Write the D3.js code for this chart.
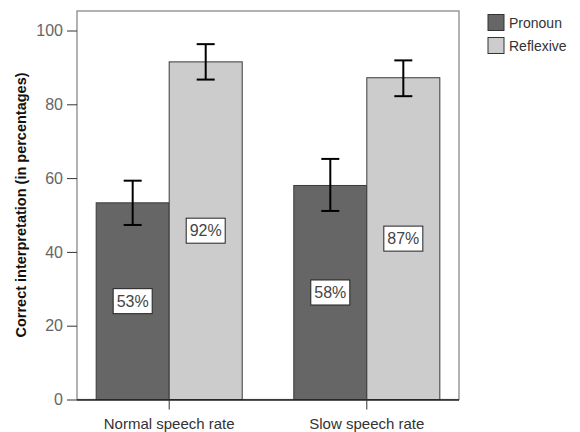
<!DOCTYPE html>
<html><head><meta charset="utf-8">
<script src="https://cdn.jsdelivr.net/npm/d3@7"></script>
<style>body{margin:0;background:#fff}text{font-family:Arial,"Liberation Sans",sans-serif}</style>
</head><body><svg id="c" width="580" height="432"></svg>
<script>
const categories = ["Normal speech rate", "Slow speech rate"];
const series = ["Pronoun", "Reflexive"];
const pronoun = [53.3, 58.0];
const reflexive = [91.5, 87.2];
const pronounLow = [47.3, 51.1];
const pronounHigh = [59.3, 65.2];
const reflexiveLow = [86.7, 82.2];
const reflexiveHigh = [96.3, 91.9];
const labels = [["53%", "58%"], ["92%", "87%"]];
const yTicks = [0, 20, 40, 60, 80, 100];
const colors = ["#666666", "#cccccc"];

const svg = d3.select("#c");
const L = 77, R = 459, T = 11, B = 399.5;
const y = d3.scaleLinear().domain([0, 100]).range([B, 30.5]);
const x0 = d3.scaleBand().domain(categories).range([L, R]).paddingInner(0.261).paddingOuter(0.097);
const x1 = d3.scaleBand().domain(series).range([0, x0.bandwidth()]);

// frame
svg.append("rect").attr("x", L).attr("y", T).attr("width", R - L).attr("height", B - T)
  .attr("fill", "none").attr("stroke", "#7f7f7f").attr("stroke-width", 1.2);

const vals = [pronoun, reflexive], lows = [pronounLow, reflexiveLow], highs = [pronounHigh, reflexiveHigh];
series.forEach((s, si) => {
  categories.forEach((c, ci) => {
    const bx = x0(c) + x1(s);
    svg.append("rect").attr("x", bx).attr("y", y(vals[si][ci])).attr("width", x1.bandwidth())
      .attr("height", y(0) - y(vals[si][ci])).attr("fill", colors[si]).attr("stroke", "#3a3a3a").attr("stroke-width", 1);
  });
});
series.forEach((s, si) => {
  categories.forEach((c, ci) => {
    const cx = x0(c) + x1(s) + x1.bandwidth() / 2;
    const g = svg.append("g").attr("stroke", "#000").attr("stroke-width", 2);
    g.append("line").attr("x1", cx).attr("x2", cx).attr("y1", y(highs[si][ci])).attr("y2", y(lows[si][ci]));
    [highs[si][ci], lows[si][ci]].forEach(v => g.append("line").attr("x1", cx - 9).attr("x2", cx + 9).attr("y1", y(v)).attr("y2", y(v)));
    const ly = y(vals[si][ci] / 2);
    svg.append("rect").attr("x", cx - 19.5).attr("y", ly - 12.5).attr("width", 39).attr("height", 25)
      .attr("fill", "#fff").attr("stroke", "#222").attr("stroke-width", 1);
    svg.append("text").attr("x", cx).attr("y", ly + 5.5).attr("text-anchor", "middle")
      .attr("font-size", 16).attr("fill", "#444").text(labels[si][ci]);
  });
});

// y axis
const ya = svg.append("g").attr("transform", `translate(${L},0)`).call(d3.axisLeft(y).tickValues(yTicks).tickSize(10).tickPadding(4));
ya.select(".domain").remove();
ya.selectAll("line").attr("stroke", "#333");
ya.selectAll("text").attr("font-size", 16).attr("fill", "#666").style("font-family", "Arial, 'Liberation Sans', sans-serif");

// x axis
const xa = svg.append("g").attr("transform", `translate(0,${B})`).call(d3.axisBottom(x0).tickSize(10).tickPadding(9));
xa.select(".domain").attr("d", `M${L},0.5H${R}`).attr("stroke", "#222").attr("stroke-width", 1.5);
xa.selectAll("line").attr("stroke", "#333");
xa.selectAll("text").attr("font-size", 15).attr("fill", "#333").style("font-family", "Arial, 'Liberation Sans', sans-serif");

// y title
svg.append("text").attr("transform", "translate(26,205) rotate(-90)").attr("text-anchor", "middle")
  .attr("font-size", 14.5).attr("font-weight", "bold").attr("fill", "#111").text("Correct interpretation (in percentages)");

// legend
series.forEach((s, i) => {
  const ly = 14.5 + i * 23;
  svg.append("rect").attr("x", 488).attr("y", ly).attr("width", 16).attr("height", 16)
    .attr("fill", colors[i]).attr("stroke", "#333").attr("stroke-width", 1);
  svg.append("text").attr("x", 509).attr("y", ly + 13).attr("font-size", 14).attr("fill", "#333").text(s);
});
</script></body></html>
